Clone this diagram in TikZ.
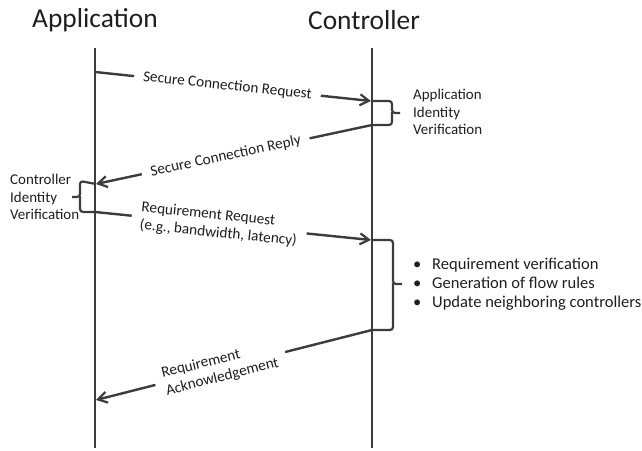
\documentclass[tikz,border=0pt]{standalone}
\usepackage{fontspec}
\setmainfont{Carlito}
\usetikzlibrary{arrows.meta}
\definecolor{ln}{HTML}{3C3C3C}
\definecolor{tx}{HTML}{1E1E1E}
\begin{document}
\begin{tikzpicture}[x=1bp,y=-1bp,
  life/.style={draw=ln,line width=2.6bp},
  msg/.style={draw=ln,line width=2.4bp,-{Straight Barb[length=9bp,width=11bp,line width=2.2bp]}},
  lbl/.style={fill=white,text=tx,font=\fontsize{15.3}{18}\selectfont,sloped,inner xsep=9bp,inner ysep=2bp,align=center},
  brace/.style={draw=ln,line width=2.2bp,rounded corners=3bp},
  note/.style={text=tx,font=\fontsize{15}{17.5}\selectfont,align=left,anchor=west,inner sep=0pt},
  head/.style={text=tx,font=\fontsize{27.5}{30}\selectfont,inner sep=0pt}]
\useasboundingbox (0,0) rectangle (642,451);
% headers
\node[head] (happ) at (95,20) {Application};
\node[head] (hctl) at (364,20) {Controller};
% lifelines
\coordinate (aT) at (95,48); \coordinate (aB) at (95,448);
\coordinate (cT) at (372,48); \coordinate (cB) at (372,448);
\draw[life] (aT) -- (aB);
\draw[life] (cT) -- (cB);
% message endpoints
\coordinate (m1s) at (95,72);  \coordinate (m1e) at (371,101);
\coordinate (m2s) at (372,125); \coordinate (m2e) at (96,184);
\coordinate (m3s) at (95,212); \coordinate (m3e) at (371,240);
\coordinate (m4s) at (372,330); \coordinate (m4e) at (96,400);
\draw[msg] (m1s) -- node[lbl,pos=0.48] (t1) {Secure Connection Request} (m1e);
\draw[msg] (m2s) -- node[lbl,pos=0.53] (t2) {Secure Connection Reply} (m2e);
\draw[msg] (m3s) -- node[lbl,pos=0.45,align=left] (t3) {Requirement Request\\(e.g., bandwidth, latency)} (m3e);
\draw[msg] (m4s) -- node[lbl,pos=0.55,align=left] (t4) {Requirement\\Acknowledgement} (m4e);
% brace 1 (controller)
\draw[brace] (m1e) -- (392,101) -- (392,113) -- (400,113);
\draw[brace] (392,112) -- (392,125) -- (m2s);
\node[note] (n1) at (413,112) {Application\\Identity\\Verification};
% brace 2 (application)
\draw[brace] (m2e) -- (80,181) -- (80,197) -- (72,197);
\draw[brace] (80,196) -- (80,212) -- (m3s);
\node[note] (n2) at (10,197) {Controller\\Identity\\Verification};
% brace 3 (controller)
\draw[brace] (m3e) -- (393,240) -- (393,284) -- (402,284);
\draw[brace] (393,283) -- (393,330) -- (m4s);
\node[note,font=\fontsize{16.6}{19}\selectfont] (n3) at (410,284) {%
\makebox[22bp][l]{\hspace{3bp}•}Requirement verification\\
\makebox[22bp][l]{\hspace{3bp}•}Generation of flow rules\\
\makebox[22bp][l]{\hspace{3bp}•}Update neighboring controllers};
\end{tikzpicture}
\end{document}
